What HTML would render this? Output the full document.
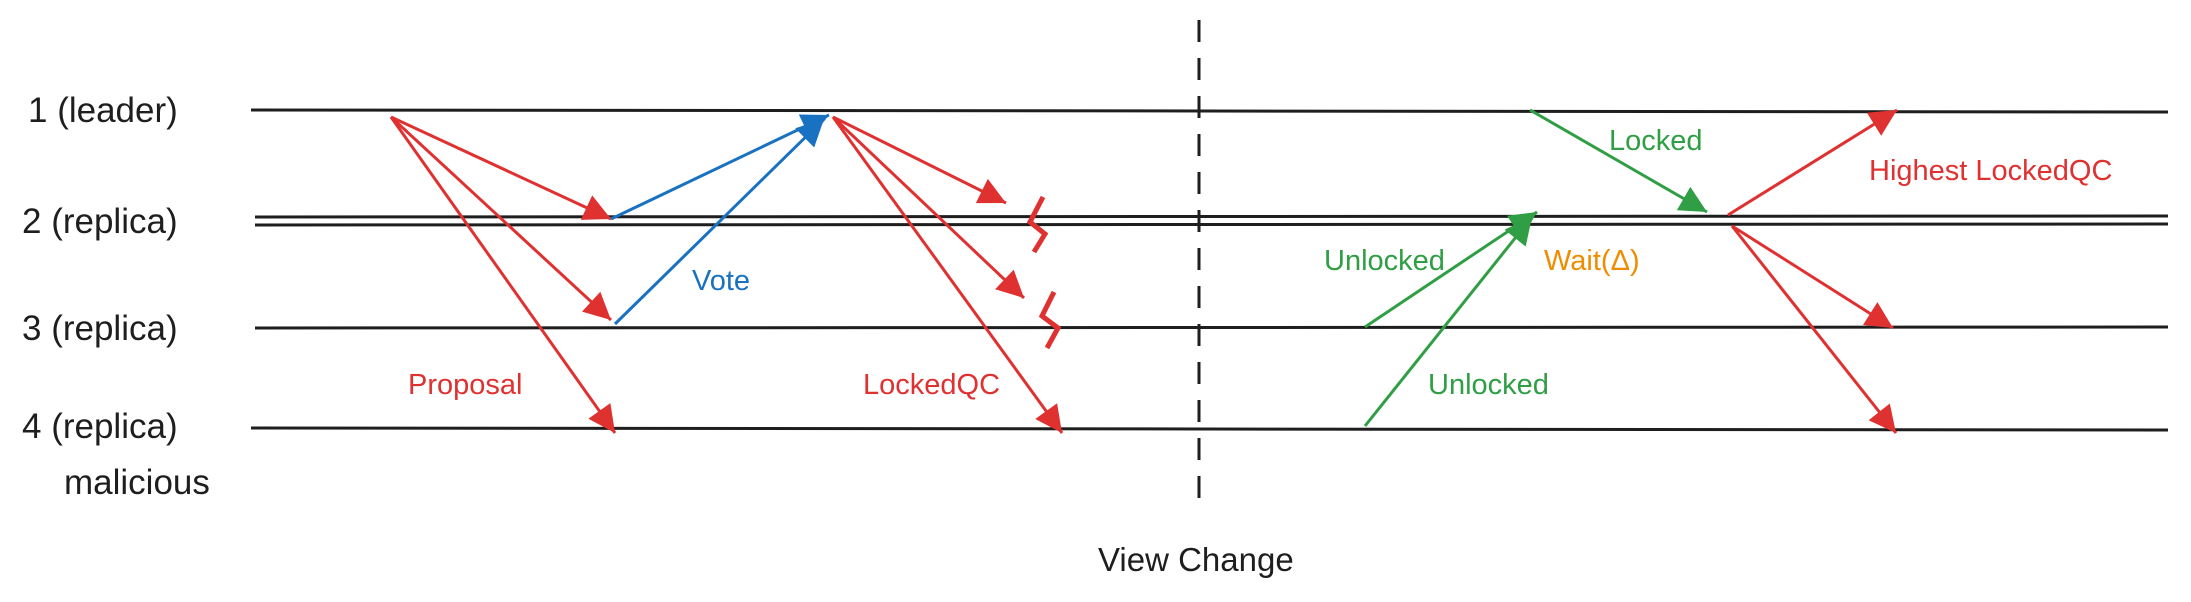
<!DOCTYPE html>
<html><head><meta charset="utf-8"><style>
html,body{margin:0;padding:0;background:#fff;}
svg{display:block}
text{font-family:"Liberation Sans",sans-serif;}
</style></head><body>
<svg width="2191" height="602" viewBox="0 0 2191 602" xmlns="http://www.w3.org/2000/svg">
<defs>
<marker id="r" viewBox="0 0 10 10" refX="10" refY="5" markerWidth="11" markerHeight="9" markerUnits="strokeWidth" orient="auto"><path d="M0,0 L10,5 L0,10 z" fill="#e03131"/></marker>
<marker id="b" viewBox="0 0 10 10" refX="10" refY="5" markerWidth="11" markerHeight="9" markerUnits="strokeWidth" orient="auto"><path d="M0,0 L10,5 L0,10 z" fill="#1971c2"/></marker>
<marker id="g" viewBox="0 0 10 10" refX="10" refY="5" markerWidth="11" markerHeight="9" markerUnits="strokeWidth" orient="auto"><path d="M0,0 L10,5 L0,10 z" fill="#2f9e44"/></marker>
</defs>
<g stroke="#1e1e1e" stroke-width="3" fill="none">
<path d="M251,110 L2168,112"/>
<path d="M255,217 L2168,216"/>
<path d="M255,225 L2168,224"/>
<path d="M255,328 L2168,327"/>
<path d="M251,428 L2168,430"/>
<path d="M1199,20 L1199,514" stroke-dasharray="22,16"/>
</g>
<g font-size="35" fill="#1e1e1e">
<text x="28" y="122">1 (leader)</text>
<text x="22" y="233">2 (replica)</text>
<text x="22" y="340">3 (replica)</text>
<text x="22" y="438">4 (replica)</text>
<text x="64" y="494">malicious</text>
<text x="1098" y="571" font-size="33">View Change</text>
</g>
<g stroke="#e03131" stroke-width="3" fill="none">
<path d="M391,117 L611,219" marker-end="url(#r)"/>
<path d="M391,117 L611,320" marker-end="url(#r)"/>
<path d="M391,117 L615,433" marker-end="url(#r)"/>
<path d="M833,117 L1006,203" marker-end="url(#r)"/>
<path d="M833,117 L1024,298" marker-end="url(#r)"/>
<path d="M833,117 L1062,433" marker-end="url(#r)"/>
<path d="M1728,215 L1897,110" marker-end="url(#r)"/>
<path d="M1732,226 L1893,328" marker-end="url(#r)"/>
<path d="M1732,226 L1896,433" marker-end="url(#r)"/>
<path d="M1043,197 L1030,222 L1045,234 L1034,252" stroke-width="5"/>
<path d="M1054,292 L1042,316 L1058,328 L1047,348" stroke-width="5"/>
</g>
<g stroke="#1971c2" stroke-width="3" fill="none">
<path d="M611,219 L829,115" marker-end="url(#b)"/>
<path d="M615,324 L824,119" marker-end="url(#b)"/>
</g>
<g stroke="#2f9e44" stroke-width="3" fill="none">
<path d="M1530,110 L1707,212" marker-end="url(#g)"/>
<path d="M1365,327 L1537,212" marker-end="url(#g)"/>
<path d="M1365,426 L1532,217" marker-end="url(#g)"/>
</g>
<g font-size="29">
<text x="408" y="394" fill="#e03131">Proposal</text>
<text x="863" y="394" fill="#e03131">LockedQC</text>
<text x="692" y="290" fill="#1971c2">Vote</text>
<text x="1609" y="150" fill="#2f9e44">Locked</text>
<text x="1324" y="270" fill="#2f9e44">Unlocked</text>
<text x="1428" y="394" fill="#2f9e44">Unlocked</text>
<text x="1544" y="270" fill="#f08c00">Wait(Δ)</text>
<text x="1869" y="180" fill="#e03131">Highest LockedQC</text>
</g>
</svg>
</body></html>
